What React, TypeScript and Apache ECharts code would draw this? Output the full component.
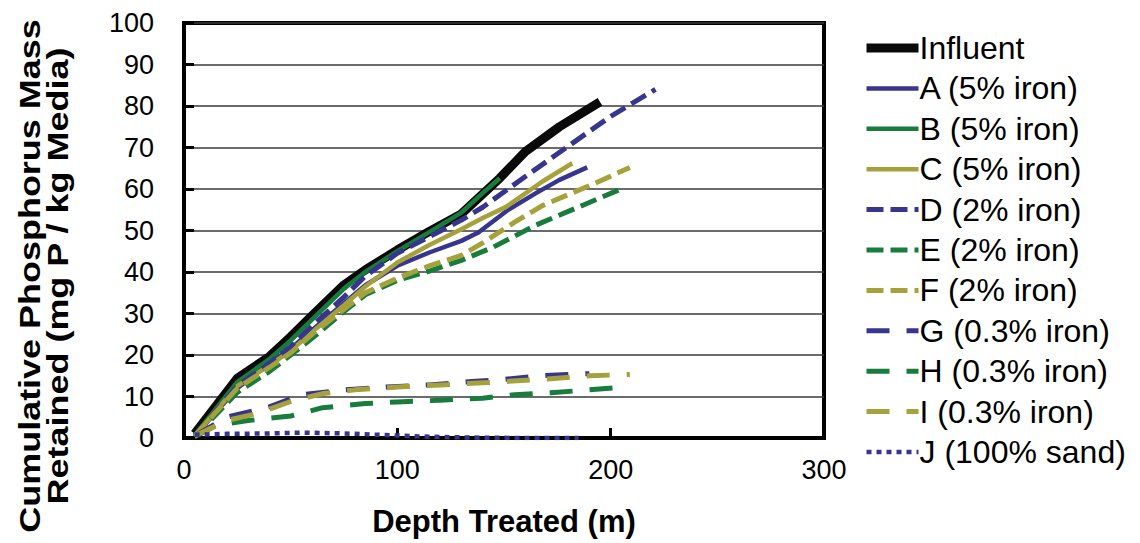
import React, { useEffect, useRef } from "react";
import * as echarts from "echarts";

const FONT = '"Liberation Sans", Arial, Helvetica, sans-serif';

const BLUE = "#38358F";
const GREEN = "#187C3D";
const OLIVE = "#A5A13B";

const seriesNames = [
  "Influent",
  "A (5% iron)",
  "B (5% iron)",
  "C (5% iron)",
  "D (2% iron)",
  "E (2% iron)",
  "F (2% iron)",
  "G (0.3% iron)",
  "H (0.3% iron)",
  "I (0.3% iron)",
  "J (100% sand)",
];

const xTicks = [0, 100, 200, 300];
const yTicks = [0, 10, 20, 30, 40, 50, 60, 70, 80, 90, 100];

const influentX = [5, 25, 40, 50, 60, 75, 85, 100, 115, 130, 148, 160, 176, 195];
const influentY = [1, 14.4, 19.6, 24.4, 29.5, 36.9, 40.5, 45.3, 49.8, 54, 62.6, 69, 75, 81];

const aX = [5, 25, 40, 50, 60, 75, 85, 100, 115, 130, 138, 152, 165, 176, 189];
const aY = [0.5, 12, 18, 21.5, 26, 32.5, 36.8, 41.5, 44.7, 47.5, 49.5, 55, 59, 62.2, 65.2];

const bX = [5, 25, 40, 50, 60, 75, 85, 100, 115, 130, 140, 148];
const bY = [0.6, 13.5, 19, 23.5, 28.5, 36, 40, 45, 49.6, 54.3, 59, 62.6];

const cX = [5, 25, 40, 50, 60, 75, 85, 100, 115, 130, 140, 151, 168, 182];
const cY = [0.5, 12.5, 17.5, 21, 25.5, 32, 36.5, 42.3, 46.5, 50.3, 53, 55.7, 61.8, 66.2];

const dX = [5, 25, 40, 50, 60, 75, 85, 100, 115, 130, 140, 160, 182, 200, 221];
const dY = [0.5, 12.5, 18, 22, 27, 34, 39, 44.5, 48.5, 52.5, 55.6, 63, 71, 77.5, 84];

const eX = [5, 25, 40, 50, 60, 75, 85, 100, 115, 130, 145, 165, 187, 204];
const eY = [0.3, 11, 16, 20, 24, 30.5, 34.5, 38, 40.2, 42.8, 46, 51.3, 56.1, 59.8];

const fX = [5, 25, 40, 50, 60, 75, 85, 100, 115, 130, 140, 155, 168, 191, 209];
const fY = [0.5, 12, 17, 20.5, 25, 31, 35, 38.5, 41.5, 44, 47, 52, 56, 61, 65.2];

const gX = [5, 20, 40, 55, 75, 95, 115, 135, 150, 167, 190];
const gY = [0.5, 5, 7.5, 10.4, 11.6, 12.3, 12.8, 13.6, 14.1, 15, 15.5];

const hX = [5, 15, 30, 50, 65, 85, 100, 120, 140, 155, 172, 190, 207];
const hY = [0.3, 3, 4.2, 5.3, 7.3, 8.3, 8.7, 9.1, 9.6, 10.4, 10.9, 11.6, 12.3];

const iX = [5, 20, 35, 50, 65, 80, 100, 120, 140, 160, 175, 190, 209];
const iY = [0.5, 4.2, 6, 8.8, 10.7, 11.6, 12.3, 12.8, 13.3, 13.9, 14.4, 15, 15.3];

const jX = [5, 20, 40, 55, 75, 90, 100, 115, 135, 160, 185];
const jY = [0.8, 1, 1.1, 1.3, 1.1, 0.8, 0.6, 0.3, 0.1, 0, 0];

const seriesX = [influentX, aX, bX, cX, dX, eX, fX, gX, hX, iX, jX];
const seriesY = [influentY, aY, bY, cY, dY, eY, fY, gY, hY, iY, jY];

const seriesColors = ["#0a0a0a", BLUE, GREEN, OLIVE, BLUE, GREEN, OLIVE, BLUE, GREEN, OLIVE, BLUE];
const seriesWidths = [9, 4.5, 4.5, 4.5, 5, 5, 5, 5, 5, 5, 4.5];
const seriesDash: (string | number[])[] = [
  "solid",
  "solid",
  "solid",
  "solid",
  [17, 7],
  [17, 7],
  [17, 7],
  [23, 17],
  [23, 17],
  [23, 17],
  [5, 5],
];

export default function App() {
  const ref = useRef<HTMLDivElement>(null);

  useEffect(() => {
    if (!ref.current) return;
    document.body.style.margin = "0";
    const chart = echarts.init(ref.current, null, { renderer: "svg", width: 1140, height: 543 });

    const series = seriesNames.map((name, k) => ({
      name,
      type: "line",
      showSymbol: false,
      symbol: "none",
      smooth: false,
      data: seriesX[k].map((x, i) => [x, seriesY[k][i]]),
      lineStyle: {
        color: seriesColors[k],
        width: seriesWidths[k],
        type: seriesDash[k],
        cap: "butt",
        join: "round",
      },
      itemStyle: { color: seriesColors[k] },
      z: 2 + k * 0.01,
    }));

    chart.setOption({
      animation: false,
      backgroundColor: "#ffffff",
      textStyle: { fontFamily: FONT },
      grid: {
        left: 184,
        right: 316,
        top: 23,
        bottom: 105,
        show: true,
        borderColor: "#000",
        borderWidth: 4,
        backgroundColor: "transparent",
      },
      legend: {
        orient: "vertical",
        left: 862,
        top: 32,
        padding: 0,
        itemWidth: 52,
        itemHeight: 12,
        itemGap: 8.4,
        data: seriesNames,
        textStyle: { fontSize: 32, lineHeight: 30, color: "#000", fontFamily: FONT, padding: [0, 0, 0, -4] },
        lineStyle: { width: "inherit" },
        itemStyle: { color: "transparent", opacity: 0, borderWidth: 0 },
        selectedMode: false,
      },
      xAxis: {
        type: "value",
        min: xTicks[0],
        max: xTicks[xTicks.length - 1],
        interval: 100,
        name: "Depth Treated (m)",
        nameLocation: "middle",
        nameGap: 68,
        nameTextStyle: { fontSize: 31, fontWeight: "bold", color: "#000", fontFamily: FONT },
        axisLine: { show: true, lineStyle: { color: "#000", width: 4 } },
        axisTick: { show: true, inside: true, length: 10, lineStyle: { color: "#000", width: 3 } },
        axisLabel: { fontSize: 27, color: "#000", margin: 18, fontFamily: FONT },
        splitLine: { show: false },
      },
      yAxis: {
        type: "value",
        min: yTicks[0],
        max: yTicks[yTicks.length - 1],
        interval: 10,
        axisLine: { show: true, lineStyle: { color: "#000", width: 4 } },
        axisTick: { show: true, inside: true, length: 10, lineStyle: { color: "#000", width: 3 } },
        axisLabel: { fontSize: 27, color: "#000", margin: 30, fontFamily: FONT },
        splitLine: { show: true, lineStyle: { color: "#3a3a3a", width: 1.5 } },
      },
      graphic: [
        {
          type: "text",
          x: 44,
          y: 276,
          rotation: Math.PI / 2,
          scaleX: 1.24,
          style: {
            text: "Cumulative Phosphorus Mass\nRetained (mg P / kg Media)",
            font: `bold 29px ${FONT}`,
            textAlign: "center",
            textVerticalAlign: "middle",
            lineHeight: 28,
            fill: "#000",
          },
        },
      ],
      series,
    });

    return () => {
      chart.dispose();
    };
  }, []);

  return <div ref={ref} style={{ width: 1140, height: 543 }} />;
}
